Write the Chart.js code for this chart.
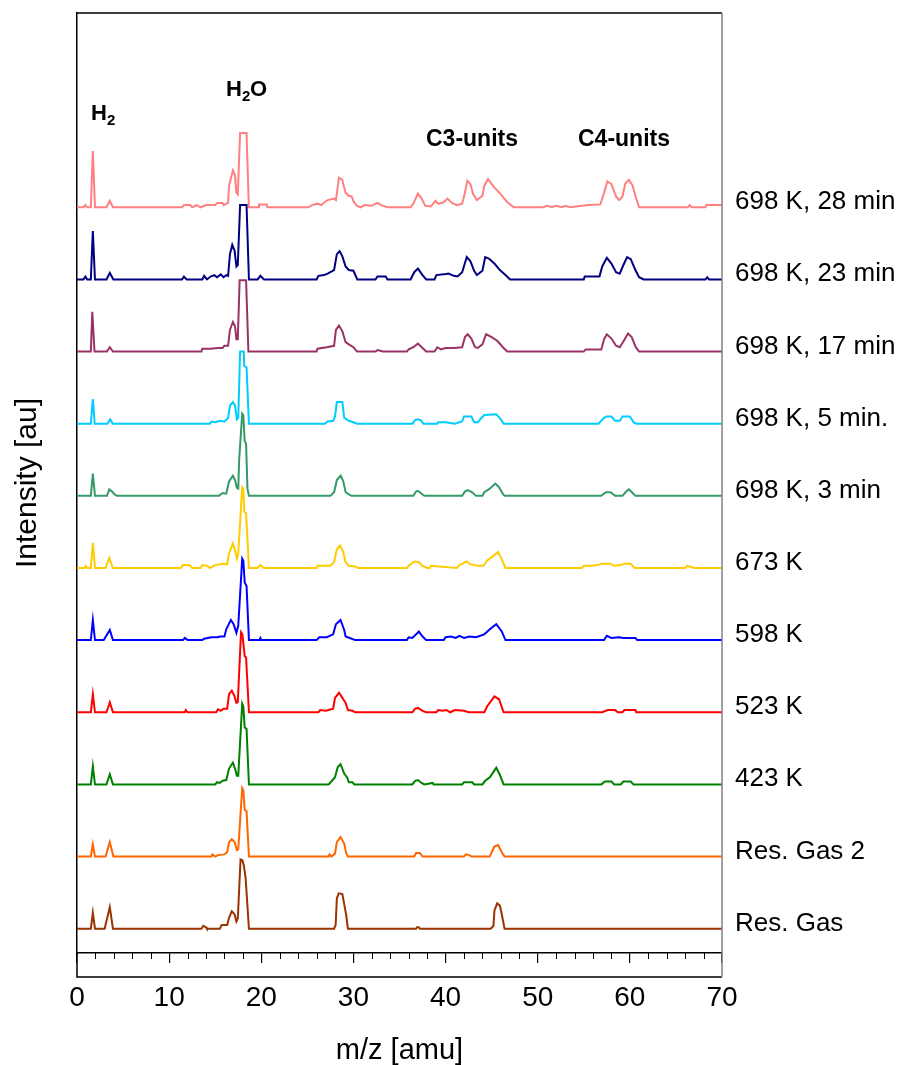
<!DOCTYPE html>
<html>
<head>
<meta charset="utf-8">
<script src="https://cdn.jsdelivr.net/npm/chart.js@4.4.1/dist/chart.umd.min.js"></script>
<style>
  html, body { margin: 0; padding: 0; background: #fff; }
  #wrap { width: 901px; height: 1065px; }
</style>
</head>
<body>
<div id="wrap"><canvas id="chart" width="901" height="1065"></canvas></div>
<script>
/* =========================
   DATA  ([m/z, intensity], 1 au = one stacking step)
========================= */
const seriesLabels = [
  "Res. Gas", "Res. Gas 2", "423 K", "523 K", "598 K", "673 K",
  "698 K, 3 min", "698 K, 5 min.", "698 K, 17 min", "698 K, 23 min", "698 K, 28 min",
];

const offsets = [0, 1, 2, 3, 4, 5, 6, 7, 8, 9, 10];

const xTicks = [0, 10, 20, 30, 40, 50, 60, 70];

const resGas = [[0,0],[1.5,0],[1.72,0.22],[1.95,0],[3.0,0],[3.56,0.3],[3.9,0],[13.5,0],[13.7,0.04],[14.0,0.02],[14.1,0],[15.5,0],[15.7,0.05],[16.3,0.05],[16.5,0.15],[16.8,0.24],[17.1,0.2],[17.3,0.1],[17.45,0.14],[17.75,0.96],[17.95,0.95],[18.1,0.88],[18.3,0.7],[18.66,0],[27.9,0],[28.07,0.05],[28.2,0.42],[28.4,0.49],[28.8,0.48],[29.0,0.34],[29.2,0.2],[29.4,0],[36.8,0],[36.9,0.02],[37.1,0.02],[37.2,0],[44.9,0],[45.2,0.04],[45.3,0.25],[45.6,0.35],[45.9,0.32],[46.1,0.2],[46.4,0],[70,0]];

const resGas2 = [[0,0],[1.5,0],[1.72,0.17],[1.95,0],[3.1,0],[3.56,0.2],[3.95,0],[14.6,0],[14.7,0.03],[15.0,0],[15.3,0.02],[16.0,0.03],[16.3,0.06],[16.5,0.2],[16.8,0.24],[17.1,0.2],[17.35,0.09],[17.5,0.1],[17.93,0.95],[18.05,0.92],[18.2,0.65],[18.4,0.63],[18.66,0],[27.3,0],[27.4,0.03],[27.6,0],[28.0,0.04],[28.2,0.2],[28.6,0.27],[29.0,0.18],[29.2,0.05],[29.4,0],[36.6,0],[36.8,0.05],[37.2,0.05],[37.5,0],[42.0,0],[42.2,0.03],[42.6,0.02],[42.8,0],[44.8,0],[45.0,0.06],[45.3,0.14],[45.7,0.16],[46.1,0.06],[46.4,0],[70,0]];

const k423 = [[0,0],[1.5,0],[1.72,0.25],[1.95,0],[3.2,0],[3.56,0.14],[3.9,0],[15.0,0],[15.2,0.03],[15.5,0.02],[15.8,0.05],[16.2,0.06],[16.5,0.22],[16.92,0.3],[17.2,0.2],[17.35,0.12],[17.5,0.12],[17.93,1.12],[18.05,1.08],[18.2,0.79],[18.4,0.77],[18.66,0],[27.3,0],[27.6,0.04],[28.0,0.1],[28.3,0.24],[28.6,0.28],[29.0,0.15],[29.3,0.1],[29.5,0.03],[29.9,0.03],[30.1,0],[36.4,0],[36.7,0.05],[37.0,0.06],[37.4,0.02],[37.7,0],[38.6,0.02],[38.7,0],[41.8,0],[42.0,0.03],[42.9,0.03],[43.1,0],[44.0,0],[44.3,0.05],[44.8,0.1],[45.5,0.23],[45.9,0.13],[46.3,0],[56.9,0],[57.3,0.04],[58.0,0.04],[58.3,0],[59.0,0],[59.3,0.04],[60.1,0.04],[60.4,0],[70,0]];

const k523 = [[0,0],[1.5,0],[1.72,0.25],[1.95,0],[3.2,0],[3.56,0.14],[3.9,0],[11.7,0],[11.8,0.03],[12.0,0],[15.1,0],[15.3,0.04],[15.6,0.02],[15.9,0.05],[16.3,0.05],[16.5,0.25],[16.8,0.3],[17.1,0.22],[17.3,0.13],[17.45,0.14],[17.8,1.11],[17.95,1.08],[18.2,0.78],[18.35,0.76],[18.66,0],[26.2,0],[26.4,0.03],[27.0,0.02],[27.8,0.05],[28.0,0.2],[28.43,0.27],[28.8,0.2],[29.15,0.13],[29.4,0.03],[29.9,0.02],[30.2,0],[36.4,0],[36.7,0.05],[37.0,0.06],[37.5,0.02],[37.9,0],[39.0,0],[39.2,0.03],[39.7,0.02],[40.1,0.03],[40.5,0],[41.0,0.03],[42.0,0.02],[42.5,0],[44.2,0],[44.5,0.08],[45.3,0.22],[45.8,0.18],[46.3,0],[57.0,0],[57.6,0.03],[58.4,0.03],[58.7,0],[59.2,0],[59.4,0.03],[60.6,0.03],[60.7,0],[70,0]];

const k598 = [[0,0],[1.5,0],[1.72,0.28],[1.95,0],[2.9,0],[3.56,0.14],[3.9,0],[11.5,0],[11.7,0.03],[12.0,0],[13.6,0],[13.8,0.02],[14.6,0.04],[15.3,0.04],[15.5,0.05],[16.0,0.05],[16.2,0.15],[16.7,0.28],[17.0,0.22],[17.3,0.1],[17.5,0.2],[17.93,1.13],[18.05,1.1],[18.2,0.8],[18.4,0.75],[18.66,0],[19.8,0],[19.9,0.03],[20.0,0],[26.0,0],[26.3,0.04],[27.1,0.04],[27.8,0.08],[28.1,0.22],[28.6,0.28],[29.0,0.14],[29.15,0.05],[29.6,0.03],[30.2,0],[35.8,0],[36.0,0.04],[36.4,0.03],[37.1,0.12],[37.5,0.05],[37.9,0],[39.8,0],[40.0,0.04],[40.6,0.05],[41.1,0.03],[41.5,0.06],[42.0,0.03],[42.6,0.05],[43.3,0.04],[44.2,0.08],[44.8,0.15],[45.5,0.22],[46.1,0.12],[46.5,0],[57.2,0],[57.5,0.06],[58.0,0.03],[58.8,0.04],[59.3,0.03],[60.6,0.03],[60.8,0],[70,0]];

const k673 = [[0,0],[0.8,0],[0.95,0.03],[1.1,0],[1.5,0],[1.72,0.35],[1.95,0],[3.1,0],[3.5,0.14],[3.9,0],[11.3,0],[11.5,0.04],[12.2,0.04],[12.5,0],[13.4,0],[13.6,0.04],[14.1,0.03],[14.4,0],[15.0,0.04],[15.9,0.06],[16.3,0.05],[16.5,0.2],[16.92,0.34],[17.2,0.22],[17.35,0.13],[17.5,0.2],[17.93,1.12],[18.05,1.1],[18.15,0.78],[18.35,0.76],[18.66,0],[19.6,0],[19.9,0.04],[20.3,0],[26.0,0],[26.1,0.03],[27.5,0.03],[27.9,0.08],[28.2,0.26],[28.55,0.31],[28.9,0.22],[29.15,0.08],[29.5,0.03],[30.2,0.02],[30.5,0],[35.8,0],[36.0,0.03],[36.6,0.09],[37.1,0.08],[37.5,0.03],[38.0,0],[38.3,0],[38.4,0.03],[41.2,0],[41.5,0.04],[42.3,0.09],[42.7,0.05],[43.5,0.03],[44.1,0.03],[44.5,0.1],[45.7,0.22],[46.1,0.12],[46.5,0],[54.8,0],[55.0,0.03],[55.8,0.03],[56.5,0.04],[56.9,0.06],[57.9,0.06],[58.3,0.03],[59.0,0.04],[59.4,0.06],[60.1,0.06],[60.5,0],[66.0,0],[66.2,0.03],[67.0,0],[70,0]];

const min3 = [[0,0],[1.5,0],[1.72,0.31],[1.95,0],[3.25,0],[3.5,0.09],[3.8,0.06],[4.1,0.02],[4.3,0],[15.4,0],[15.8,0.04],[16.2,0.03],[16.5,0.2],[16.92,0.28],[17.15,0.22],[17.35,0.11],[17.5,0.1],[17.6,0.5],[17.93,1.14],[18.05,1.12],[18.2,0.76],[18.35,0.72],[18.5,0.1],[18.66,0],[27.5,0],[27.9,0.05],[28.2,0.22],[28.61,0.28],[28.9,0.2],[29.15,0.05],[29.5,0.02],[29.8,0],[36.5,0],[36.8,0.06],[37.0,0.07],[37.4,0.03],[37.7,0],[41.8,0],[42.1,0.06],[42.4,0.08],[42.9,0.05],[43.3,0],[44.0,0],[44.2,0.05],[44.8,0.1],[45.4,0.17],[45.8,0.12],[46.2,0.03],[46.4,0],[56.9,0],[57.4,0.05],[57.9,0.05],[58.4,0],[59.2,0],[59.6,0.06],[59.9,0.09],[60.3,0.04],[60.6,0],[70,0]];

const min5 = [[0,0],[1.5,0],[1.72,0.34],[1.92,0],[3.3,0],[3.6,0.06],[3.9,0],[14.4,0],[14.6,0.03],[15.0,0.02],[15.5,0.04],[16.0,0.03],[16.4,0.08],[16.6,0.25],[16.92,0.3],[17.15,0.25],[17.35,0.06],[17.5,0.08],[17.7,1.0],[18.1,1.0],[18.15,0.8],[18.4,0.78],[18.66,0],[26.9,0],[27.2,0.03],[27.8,0.04],[28.0,0.1],[28.2,0.3],[28.8,0.3],[29.0,0.08],[29.5,0.04],[30.0,0.02],[30.4,0],[36.4,0],[36.7,0.05],[37.0,0.06],[37.3,0.05],[37.6,0],[39.1,0],[39.2,0.02],[40.0,0.02],[41.0,0],[41.8,0.03],[42.0,0.1],[42.8,0.1],[43.1,0.02],[43.5,0.02],[43.9,0.08],[44.2,0.12],[45.5,0.13],[46.0,0.06],[46.3,0],[56.6,0],[57.2,0.08],[57.5,0.1],[58.0,0.1],[58.4,0.04],[58.9,0.04],[59.2,0.1],[60.0,0.1],[60.4,0.02],[60.7,0],[70,0]];

const min17 = [[0,0],[1.5,0],[1.66,0.55],[1.9,0],[3.25,0],[3.56,0.06],[3.9,0],[13.5,0],[13.6,0.04],[14.5,0.04],[15.3,0.05],[15.8,0.05],[16.0,0.08],[16.4,0.08],[16.6,0.3],[16.92,0.41],[17.15,0.35],[17.3,0.17],[17.45,0.17],[17.65,0.99],[18.35,0.99],[18.6,0],[26.0,0],[26.1,0.04],[27.1,0.06],[27.9,0.08],[28.1,0.3],[28.43,0.36],[28.8,0.28],[29.15,0.13],[29.5,0.1],[30.0,0.06],[30.4,0],[32.4,0],[32.6,0.02],[33.2,0],[35.8,0],[36.0,0.03],[36.5,0.06],[37.0,0.11],[37.5,0.05],[37.9,0],[38.8,0],[39.1,0.06],[39.5,0.03],[40.0,0.05],[40.9,0.05],[41.8,0.06],[42.1,0.2],[42.4,0.24],[42.8,0.18],[43.2,0.06],[43.5,0.05],[44.0,0.1],[44.4,0.24],[45.0,0.2],[45.6,0.15],[46.3,0.05],[46.7,0],[55.0,0],[55.2,0.03],[56.9,0.03],[57.2,0.17],[57.5,0.24],[58.0,0.18],[58.5,0.08],[58.9,0.06],[59.3,0.14],[59.8,0.25],[60.2,0.2],[60.64,0.06],[61.0,0],[70,0]];

const min23 = [[0,0],[0.7,0],[0.92,0.04],[1.1,0],[1.5,0],[1.72,0.67],[1.95,0],[3.2,0],[3.56,0.09],[3.95,0],[11.4,0],[11.6,0.04],[11.9,0],[13.6,0],[13.8,0.05],[14.1,0],[14.5,0.04],[14.9,0.06],[15.2,0.03],[15.6,0.07],[15.9,0.03],[16.2,0.06],[16.4,0.05],[16.6,0.35],[16.85,0.48],[17.1,0.4],[17.3,0.18],[17.45,0.2],[17.7,1.03],[18.4,1.03],[18.66,0],[19.6,0],[19.9,0.05],[20.3,0],[26.0,0],[26.2,0.05],[26.8,0.06],[27.2,0.08],[27.9,0.13],[28.2,0.35],[28.5,0.39],[28.8,0.32],[29.15,0.18],[29.5,0.13],[30.0,0.12],[30.42,0],[32.4,0],[32.6,0.04],[33.5,0.04],[33.7,0],[36.2,0],[36.6,0.1],[37.0,0.15],[37.5,0.06],[37.9,0],[38.8,0],[39.0,0.06],[39.8,0.07],[40.3,0.08],[40.9,0.05],[41.3,0.04],[41.8,0.1],[42.3,0.31],[42.7,0.25],[43.1,0.12],[43.4,0.06],[44.0,0.12],[44.3,0.31],[44.7,0.29],[45.3,0.22],[45.9,0.13],[46.5,0.06],[47.0,0],[55.0,0],[55.1,0.04],[56.7,0.04],[57.0,0.18],[57.5,0.3],[58.0,0.22],[58.5,0.1],[58.9,0.08],[59.3,0.2],[59.7,0.31],[60.1,0.28],[60.6,0.13],[61.0,0.03],[61.5,0],[68.2,0],[68.4,0.03],[68.6,0],[70,0]];

const min28 = [[0,0],[0.7,0],[0.9,0.03],[1.1,0],[1.5,0],[1.72,0.78],[1.95,0],[3.2,0],[3.56,0.09],[3.9,0],[11.4,0],[11.6,0.03],[12.3,0.03],[12.5,0],[13.0,0.03],[13.4,0],[14.0,0.03],[15.0,0.03],[15.2,0.06],[15.8,0.06],[15.9,0.03],[16.4,0.06],[16.5,0.3],[16.92,0.51],[17.14,0.45],[17.3,0.2],[17.45,0.18],[17.7,1.03],[18.4,1.03],[18.65,0],[19.7,0],[19.75,0.04],[20.6,0.04],[20.65,0],[25.1,0],[25.5,0.03],[26.1,0.05],[26.5,0.03],[27.2,0.1],[27.9,0.12],[28.1,0.1],[28.43,0.41],[28.79,0.38],[29.15,0.2],[29.5,0.16],[29.8,0.15],[30.06,0.07],[30.4,0.02],[30.8,0],[31.2,0.03],[32.0,0.02],[32.6,0.06],[33.0,0.03],[33.7,0],[36.2,0],[36.5,0.05],[37.0,0.19],[37.4,0.12],[37.8,0.02],[38.4,0.01],[38.9,0.09],[39.2,0.05],[39.8,0.07],[40.2,0.12],[40.7,0.06],[41.2,0.03],[41.8,0.05],[42.1,0.2],[42.36,0.37],[42.7,0.32],[43.0,0.18],[43.4,0.1],[44.0,0.16],[44.2,0.3],[44.6,0.39],[45.26,0.28],[46.0,0.18],[46.7,0.07],[47.4,0],[50.6,0],[51.0,0.02],[51.5,0],[52.0,0.02],[52.6,0],[53.0,0.02],[53.5,0],[55.5,0.03],[56.8,0.04],[57.2,0.2],[57.56,0.36],[58.0,0.32],[58.5,0.15],[58.83,0.1],[59.2,0.15],[59.5,0.33],[59.9,0.38],[60.3,0.3],[60.64,0.14],[61.0,0],[66.3,0],[66.5,0.03],[66.7,0],[68.2,0],[68.3,0.03],[70,0.03]];

const allSeries = [resGas, resGas2, k423, k523, k598, k673, min3, min5, min17, min23, min28];

const colors = [
  "#993300", "#ff6600", "#008000", "#ff0000", "#0000ff", "#ffcc00",
  "#339966", "#00ccff", "#993366", "#000080", "#ff8080",
];

const FONT = "'Liberation Sans', Arial, sans-serif";

/* =========================
   PLUGIN: frame, minor ticks, labels
========================= */
const decorPlugin = {
  id: "decor",
  afterDraw(chart) {
    const { ctx, chartArea } = chart;
    const xs = chart.scales.x;
    const ys = chart.scales.y;
    const frameBottom = chartArea.bottom + 24;

    ctx.save();

    // frame
    ctx.lineWidth = 1.5;
    ctx.strokeStyle = "#000";
    ctx.beginPath();
    ctx.moveTo(chartArea.left, chartArea.top);
    ctx.lineTo(chartArea.right, chartArea.top);
    ctx.moveTo(chartArea.left, chartArea.bottom);
    ctx.lineTo(chartArea.left, frameBottom);
    ctx.lineTo(chartArea.right, frameBottom);
    ctx.stroke();

    ctx.strokeStyle = "#808080";
    ctx.beginPath();
    ctx.moveTo(chartArea.right, chartArea.top);
    ctx.lineTo(chartArea.right, frameBottom);
    ctx.stroke();

    // minor ticks
    ctx.strokeStyle = "#000";
    ctx.lineWidth = 1;
    ctx.beginPath();
    for (let v = 2; v < 70; v += 2) {
      if (v % 10 === 0) continue;
      const px = Math.round(xs.getPixelForValue(v)) + 0.5;
      ctx.moveTo(px, chartArea.bottom);
      ctx.lineTo(px, chartArea.bottom + 6);
    }
    ctx.stroke();

    // series labels on the right
    ctx.fillStyle = "#000";
    ctx.font = `26px ${FONT}`;
    ctx.textAlign = "left";
    ctx.textBaseline = "alphabetic";
    seriesLabels.forEach((label, i) => {
      const py = ys.getPixelForValue(offsets[i]);
      ctx.fillText(label, chartArea.right + 13, py + 2);
    });

    // peak group labels
    ctx.font = `bold 22px ${FONT}`;
    ctx.fillText("H", 91, 120);
    ctx.fillText("H", 226, 96);
    ctx.fillText("O", 250, 96);
    ctx.font = `bold 15px ${FONT}`;
    ctx.fillText("2", 107, 125);
    ctx.fillText("2", 242, 101);
    ctx.font = `bold 23px ${FONT}`;
    ctx.fillText("C3-units", 426, 146);
    ctx.fillText("C4-units", 578, 146);

    ctx.restore();
  },
};

/* =========================
   CHART
========================= */
function renderChart() {
  const ctx = document.getElementById("chart").getContext("2d");

  const datasets = allSeries.map((pts, i) => ({
    label: seriesLabels[i],
    data: pts.map(([x, y]) => ({ x, y: y + offsets[i] })),
    borderColor: colors[i],
    borderWidth: 2,
    pointRadius: 0,
    tension: 0,
    fill: false,
  }));

  new Chart(ctx, {
    type: "line",
    data: { datasets },
    plugins: [decorPlugin],
    options: {
      responsive: false,
      animation: false,
      events: [],
      layout: { padding: { top: 13, right: 179, left: 0, bottom: 0 } },
      plugins: { legend: { display: false }, tooltip: { enabled: false } },
      scales: {
        x: {
          type: "linear",
          min: 0,
          max: 70,
          afterBuildTicks: (scale) => {
            scale.ticks = xTicks.map((v) => ({ value: v }));
          },
          afterFit: (scale) => {
            scale.height = 112;
          },
          ticks: {
            color: "#000",
            font: { family: FONT, size: 28 },
            padding: 18,
            maxRotation: 0,
          },
          grid: {
            drawOnChartArea: false,
            drawTicks: true,
            tickLength: 10,
            color: "#000",
            lineWidth: 1.2,
          },
          border: { display: true, color: "#000", width: 1.5 },
          title: {
            display: true,
            text: "m/z [amu]",
            color: "#000",
            font: { family: FONT, size: 29, lineHeight: 1 },
            padding: { top: 0, bottom: 0 },
          },
        },
        y: {
          type: "linear",
          min: -0.337,
          max: 12.693,
          afterFit: (scale) => {
            scale.width = 77;
          },
          ticks: { display: false },
          grid: { display: false },
          border: { display: true, color: "#000", width: 1.5 },
          title: {
            display: true,
            text: "Intensity [au]",
            color: "#000",
            font: { family: FONT, size: 30, lineHeight: 1 },
            padding: { top: 13, bottom: 0 },
          },
        },
      },
    },
  });
}

renderChart();
</script>
</body>
</html>
